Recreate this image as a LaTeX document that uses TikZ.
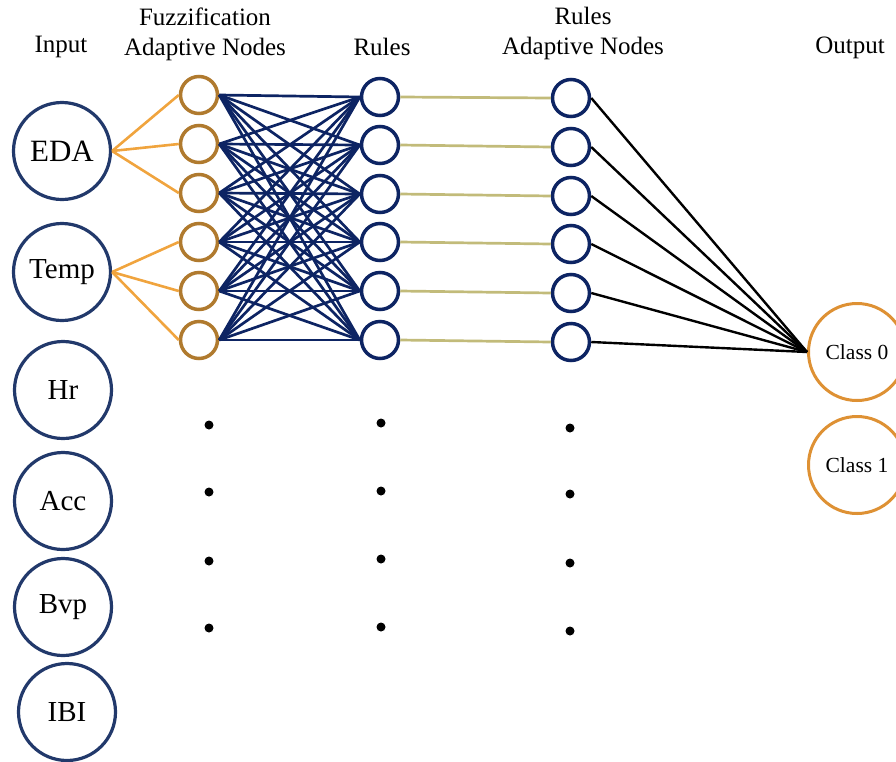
\documentclass[tikz,border=0pt]{standalone}
\usepackage{fontspec}
\setmainfont{Liberation Serif}
\definecolor{inputblue}{HTML}{22396B}
\definecolor{fuzzbrown}{HTML}{B07A2E}
\definecolor{fuzzline}{HTML}{F0A43E}
\definecolor{rulenavy}{HTML}{0D2463}
\definecolor{ruleline}{HTML}{C2BB7A}
\definecolor{classorange}{HTML}{DE9134}
\begin{document}
\begin{tikzpicture}[x=1pt,y=-1pt,
  inputnode/.style={circle,draw=inputblue,line width=3.2pt,minimum size=97pt,inner sep=0pt,font=\fontsize{29}{32}\selectfont},
  fuzznode/.style={circle,draw=fuzzbrown,line width=3.5pt,minimum size=37pt,inner sep=0pt},
  rulenode/.style={circle,draw=rulenavy,line width=3.5pt,minimum size=37pt,inner sep=0pt},
  classnode/.style={circle,draw=classorange,line width=3pt,minimum size=97pt,inner sep=0pt,font=\fontsize{21.5}{24}\selectfont},
  header/.style={font=\fontsize{25}{30}\selectfont,align=center},
  fuzzedge/.style={draw=fuzzline,line width=2.6pt},
  ruleedge/.style={draw=rulenavy,line width=2.7pt},
  adaptedge/.style={draw=ruleline,line width=2.7pt},
  outedge/.style={draw=black,line width=2.4pt},
  ellipsisdot/.style={circle,fill=black,inner sep=0pt,minimum size=9pt}]
\useasboundingbox (0,0) rectangle (896,761);

% column headers
\node[header] (hin) at (61,47) {Input};
\node[header] (hfz) at (205,34) {Fuzzification\\Adaptive Nodes};
\node[header] (hrl) at (382,47) {Rules};
\node[header] (hra) at (583,33) {Rules\\Adaptive Nodes};
\node[header] (hout) at (850,48) {Output};

% input layer
\node[inputnode,font=\fontsize{31}{34}\selectfont] (eda) at (62,151) {EDA};
\node[inputnode] (temp) at (62,272) {Temp};
\node[inputnode] (hr) at (63,390) {Hr};
\node[inputnode] (acc) at (63,501) {Acc};
\node[inputnode] (bvp) at (63,607) {Bvp};
\node[inputnode] (ibi) at (67,712) {IBI};

% fuzzification, rule and rule-adaptive layers
\foreach \i/\y in {1/95,2/144,3/193,4/242,5/291,6/340}{
  \node[fuzznode] (f\i) at (199,\y) {};
}
\foreach \i/\y in {1/97,2/145,3/194,4/242,5/291,6/340}{
  \node[rulenode] (r\i) at (380,\y) {};
}
\foreach \i/\y in {1/98,2/147,3/196,4/244,5/293,6/342}{
  \node[rulenode] (a\i) at (571,\y) {};
}

% output layer
\node[classnode] (c0) at (857,352) {Class 0};
\node[classnode] (c1) at (857,465) {Class 1};

% input to fuzzification
\foreach \i in {1,2,3}{ \path[fuzzedge] (eda.east) -- (f\i.west); }
\foreach \i in {4,5,6}{ \path[fuzzedge] (temp.east) -- (f\i.west); }

% fuzzification to rules, fully connected
\foreach \i in {1,...,6}{
  \foreach \j in {1,...,6}{
    \path[ruleedge] (f\i.east) -- (r\j.west);
  }
}

% rules to rule-adaptive nodes
\foreach \i in {1,...,6}{ \path[adaptedge] (r\i.east) -- (a\i.west); }

% rule-adaptive nodes to output
\foreach \i in {1,...,6}{ \path[outedge] (a\i.east) -- (c0.west); }

% ellipsis dots
\foreach \k/\y in {1/425,2/492,3/561,4/628}{ \node[ellipsisdot] (df\k) at (209,\y) {}; }
\foreach \k/\y in {1/423,2/491,3/559,4/627}{ \node[ellipsisdot] (dr\k) at (381,\y) {}; }
\foreach \k/\y in {1/428,2/494,3/563,4/631}{ \node[ellipsisdot] (da\k) at (570,\y) {}; }
\end{tikzpicture}
\end{document}
